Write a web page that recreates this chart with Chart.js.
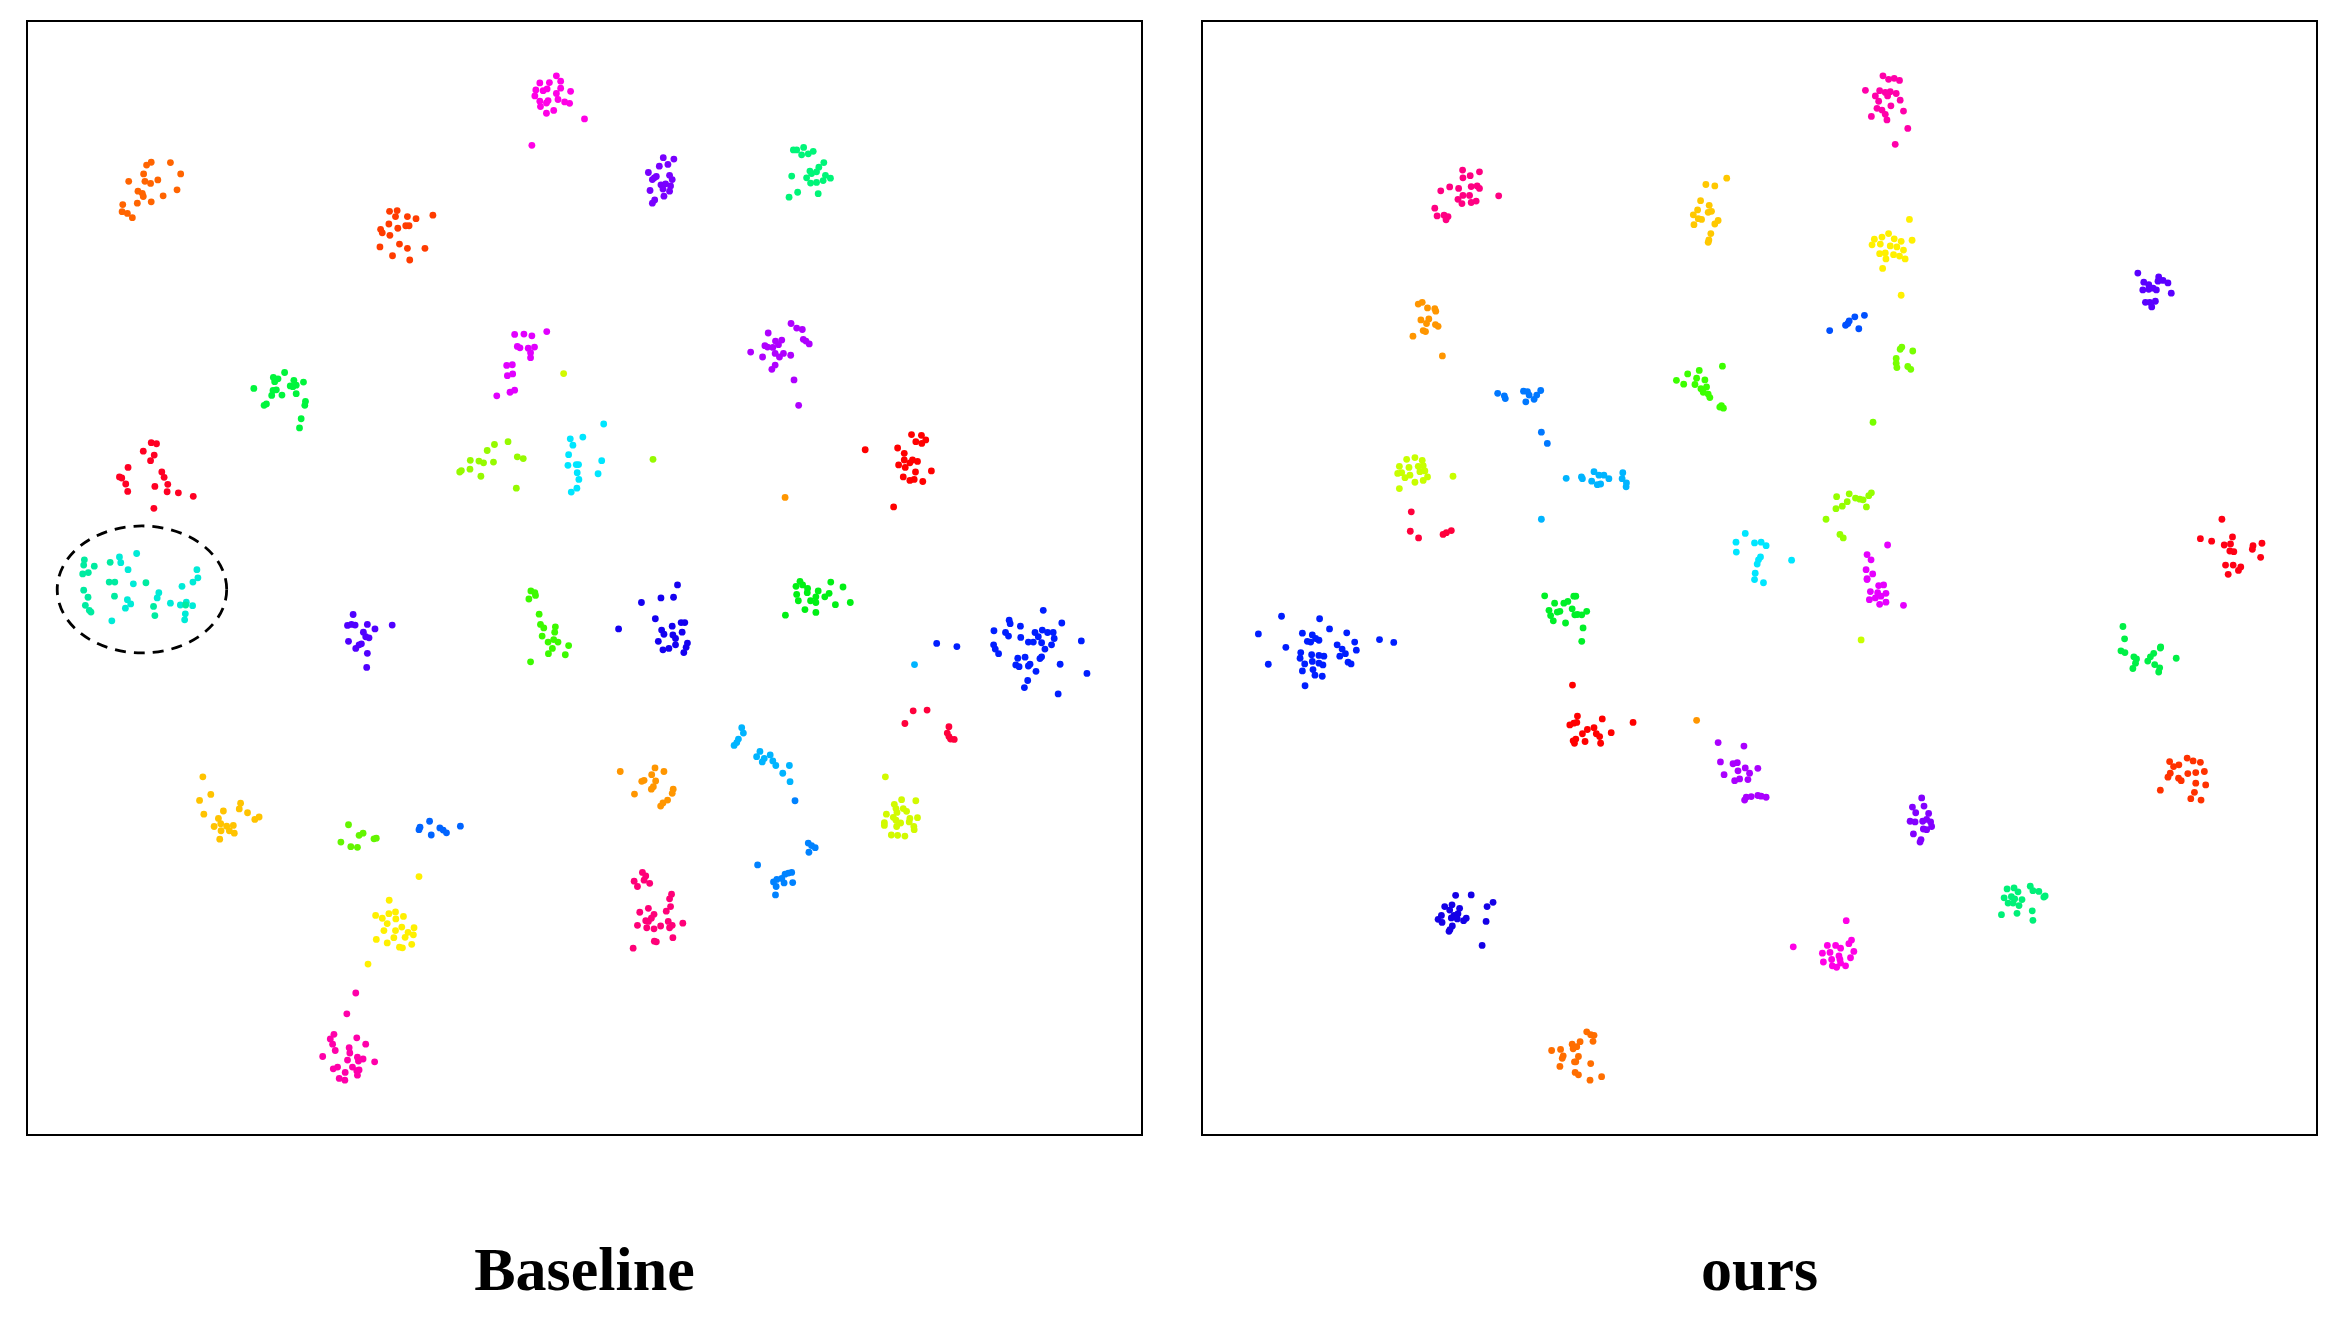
<!DOCTYPE html>
<html>
<head>
    <!-- t-SNE comparison: Baseline vs ours -->
    <title>t-SNE Baseline vs ours</title>
    <script src="https://cdn.jsdelivr.net/npm/chart.js"></script>
    <style>
        body { margin: 0; background: #fff; width: 2345px; height: 1323px; position: relative; overflow: hidden; }
        .panel { position: absolute; top: 20px; width: 1117px; height: 1116px; border: 2px solid #000; box-sizing: border-box; }
        .label { position: absolute; top: 1238px; width: 1117px; text-align: center;
                 font-family: "Liberation Serif", "Times New Roman", serif; font-weight: bold; font-size: 62px; line-height: 1; color: #000; }
    </style>
</head>
<body>
    <div class="panel" style="left: 26px;"><canvas id="baseChart"></canvas></div>
    <div class="panel" style="left: 1201px;"><canvas id="oursChart"></canvas></div>
    <div class="label" style="left: 26px;">Baseline</div>
    <div class="label" style="left: 1201px;">ours</div>
<script>
// embedding space (arbitrary units, y grows downward)
const xRange = [0, 3342];
const yRange = [0, 3133];

// ---- Baseline clusters ----
const baselineColors = [
    'rgb(255,100,0)', 'rgb(255,60,0)', 'rgb(0,245,60)', 'rgb(255,0,35)', 'rgb(0,235,160)', 'rgb(0,235,215)',
    'rgb(255,0,230)', 'rgb(120,0,255)', 'rgb(225,0,255)', 'rgb(175,0,255)', 'rgb(150,250,0)', 'rgb(0,230,255)',
    'rgb(0,245,120)', 'rgb(255,0,0)', 'rgb(80,0,255)', 'rgb(255,195,0)', 'rgb(100,245,0)', 'rgb(255,240,0)',
    'rgb(255,0,170)', 'rgb(60,250,0)', 'rgb(20,0,240)', 'rgb(0,180,255)', 'rgb(255,150,0)', 'rgb(0,100,255)',
    'rgb(255,0,120)', 'rgb(0,240,20)', 'rgb(0,30,255)', 'rgb(255,0,60)', 'rgb(210,250,0)', 'rgb(0,130,255)'
];
const baselineSeries = [
    [[362,388],[348,396],[420,389],[451,421],[339,421],[294,442],[343,442],[360,448],[382,438],[322,470],[335,476],[338,485],[440,466],[398,483],[320,504],[362,500],[276,508],[274,528],[290,533],[305,545]],
    [[1082,527],[1105,525],[1100,542],[1136,542],[1162,548],[1213,538],[1080,563],[1107,575],[1131,568],[1141,568],[1055,578],[1060,588],[1083,595],[1112,620],[1136,632],[1189,632],[1053,628],[1091,653],[1143,665]],
    [[765,984],[731,998],[745,1002],[735,1010],[793,1006],[822,1011],[672,1029],[730,1035],[740,1033],[782,1022],[790,1024],[800,1020],[800,1044],[757,1048],[726,1049],[828,1066],[826,1077],[710,1073],[703,1077],[815,1115],[810,1141]],
    [[362,1183],[378,1186],[338,1207],[371,1218],[360,1234],[292,1253],[266,1280],[273,1283],[394,1266],[401,1281],[285,1300],[412,1301],[373,1307],[291,1321],[410,1322],[444,1325],[489,1335],[370,1369]],
    [[160,1515],[158,1530],[190,1533],[155,1555],[172,1551],[238,1522],[158,1601],[171,1621],[163,1644],[180,1663],[175,1658],[235,1578],[252,1578],[251,1618],[346,1580],[369,1647],[373,1673],[466,1643]],
    [[266,1507],[270,1523],[292,1543],[318,1497],[500,1543],[503,1566],[243,1688],[290,1628],[300,1640],[284,1652],[308,1583],[385,1608],[380,1623],[420,1638],[455,1590],[450,1643],[468,1635],[487,1645],[465,1668],[463,1685],[488,1578]],
    [[1586,143],[1599,158],[1536,163],[1565,162],[1524,183],[1546,185],[1558,180],[1599,178],[1629,187],[1521,200],[1586,193],[1591,210],[1536,215],[1561,213],[1556,220],[1611,217],[1626,221],[1538,230],[1578,241],[1556,249],[1671,265],[1512,340]],
    [[1909,375],[1941,379],[1923,394],[1897,399],[1864,417],[1888,428],[1876,437],[1882,432],[1928,425],[1936,437],[1902,452],[1916,449],[1931,455],[1908,464],[1869,468],[1928,470],[1911,484],[1883,495],[1876,504]],
    [[1460,876],[1488,875],[1512,880],[1557,868],[1468,910],[1476,914],[1501,915],[1520,912],[1508,928],[1508,942],[1436,964],[1453,962],[1438,993],[1454,988],[1446,1040],[1460,1034],[1406,1050]],
    [[2226,872],[2216,908],[2224,912],[2173,926],[2209,940],[2295,845],[2312,858],[2329,862],[2248,895],[2267,892],[2257,905],[2332,890],[2340,895],[2350,903],[2240,913],[2247,930],[2260,940],[2272,930],[2294,935],[2247,963],[2237,975],[2304,1005],[2318,1077]],
    [[1399,1188],[1440,1180],[1377,1205],[1326,1233],[1352,1235],[1366,1240],[1396,1238],[1468,1223],[1486,1228],[1294,1266],[1299,1262],[1325,1258],[1358,1278],[1465,1312],[1878,1230]],
    [[1729,1130],[1666,1167],[1628,1172],[1636,1190],[1623,1217],[1621,1247],[1646,1245],[1653,1245],[1723,1234],[1649,1268],[1712,1271],[1654,1287],[1648,1312],[1631,1323]],
    [[2302,353],[2312,353],[2333,346],[2327,367],[2347,364],[2362,357],[2394,389],[2379,402],[2352,413],[2297,427],[2342,432],[2357,420],[2372,415],[2399,425],[2414,433],[2392,440],[2372,445],[2354,447],[2315,473],[2289,487],[2377,477]],
    [[2659,1160],[2689,1162],[2672,1180],[2702,1175],[2690,1185],[2617,1198],[2519,1203],[2637,1213],[2637,1232],[2662,1232],[2677,1236],[2654,1240],[2620,1246],[2640,1253],[2719,1263],[2671,1266],[2634,1280],[2654,1290],[2667,1287],[2693,1293],[2605,1365]],
    [[972,1670],[955,1701],[967,1698],[978,1700],[1015,1698],[1038,1711],[1090,1700],[1003,1720],[1010,1733],[1020,1736],[958,1746],[990,1756],[980,1766],[997,1753],[1015,1780],[1013,1820]],
    [[518,2130],[542,2180],[508,2197],[632,2205],[628,2221],[580,2227],[653,2232],[521,2236],[675,2251],[688,2244],[565,2248],[572,2263],[552,2271],[590,2270],[610,2268],[598,2283],[573,2283],[613,2290],[569,2307]],
    [[958,2266],[990,2296],[1002,2290],[935,2315],[965,2328],[985,2330],[1035,2306],[1042,2304]],
    [[1081,2480],[1040,2523],[1060,2531],[1080,2518],[1100,2513],[1075,2546],[1101,2533],[1065,2566],[1100,2566],[1042,2591],[1095,2586],[1075,2601],[1112,2613],[1017,2661],[1124,2526],[1119,2556],[1156,2558],[1138,2571],[1129,2585],[1154,2578],[1149,2605],[1121,2615],[1171,2413]],
    [[980,2743],[953,2802],[914,2860],[903,2873],[983,2870],[1010,2888],[910,2888],[918,2906],[960,2898],[962,2913],[880,2923],[955,2933],[985,2925],[1002,2930],[988,2936],[1037,2938],[925,2953],[912,2958],[970,2953],[983,2963],[990,2961],[948,2968],[985,2976],[930,2985],[947,2990]],
    [[1509,1603],[1521,1608],[1523,1616],[1503,1626],[1534,1669],[1538,1698],[1548,1708],[1583,1705],[1581,1720],[1543,1731],[1561,1748],[1578,1741],[1591,1748],[1623,1758],[1574,1766],[1562,1781],[1613,1784],[1508,1804]],
    [[1952,1586],[1902,1623],[1940,1621],[1843,1636],[1885,1682],[1774,1711],[1904,1714],[1936,1703],[1963,1693],[1974,1693],[1911,1726],[1938,1728],[1966,1720],[1946,1738],[1894,1746],[1946,1756],[1982,1751],[1978,1763],[1908,1770],[1926,1766],[1971,1778]],
    [[2146,1991],[2151,2006],[2136,2023],[2123,2041],[2131,2033],[2201,2058],[2191,2073],[2208,2088],[2214,2078],[2232,2068],[2240,2085],[2249,2098],[2270,2120],[2290,2098],[2292,2144],[2668,1812]],
    [[1779,2115],[1884,2105],[1911,2115],[1874,2124],[1886,2142],[1844,2143],[1851,2140],[1879,2158],[1873,2165],[1939,2165],[1936,2177],[1822,2179],[1922,2196],[1908,2204],[1901,2213],[2277,1338]],
    [[1171,2280],[1174,2273],[1203,2256],[1208,2295],[1234,2275],[1244,2281],[1254,2289],[1296,2270]],
    [[1846,2401],[1856,2411],[1851,2423],[1821,2426],[1831,2441],[1868,2432],[1934,2463],[1928,2476],[1931,2498],[1838,2514],[1864,2503],[1918,2511],[1881,2520],[1873,2531],[1856,2538],[1864,2540],[1831,2551],[1859,2558],[1881,2561],[1901,2553],[1924,2540],[1928,2558],[1936,2551],[1968,2545],[1938,2586],[1882,2596],[1888,2598],[1818,2616]],
    [[2322,1576],[2330,1586],[2310,1590],[2345,1596],[2415,1578],[2452,1592],[2344,1608],[2377,1603],[2312,1613],[2410,1610],[2397,1620],[2370,1620],[2317,1631],[2354,1631],[2370,1636],[2429,1642],[2474,1636],[2337,1656],[2370,1664],[2278,1672]],
    [[3057,1658],[2954,1686],[2957,1696],[2988,1703],[3113,1694],[2908,1716],[2943,1721],[2952,1731],[2989,1735],[3032,1721],[3054,1714],[3070,1721],[3087,1721],[3042,1733],[3012,1748],[3027,1748],[3052,1750],[3090,1738],[3082,1756],[3062,1768],[3172,1745],[2735,1752],[2796,1761],[2907,1756],[2912,1768],[2922,1781],[2980,1794],[3002,1791],[2974,1813],[2984,1818],[3012,1816],[3017,1811],[3052,1790],[3047,1795],[3108,1811],[3189,1837],[3035,1831],[3010,1857],[3000,1877],[3102,1895]],
    [[2664,1943],[2706,1941],[2639,1979],[2772,1988],[2767,2006],[2777,2023],[2788,2024],[2772,2016]],
    [[2580,2130],[2629,2195],[2672,2198],[2607,2208],[2612,2220],[2634,2220],[2644,2228],[2583,2236],[2615,2231],[2604,2245],[2612,2253],[2654,2248],[2677,2246],[2577,2260],[2577,2268],[2626,2261],[2614,2271],[2652,2258],[2666,2271],[2667,2280],[2598,2295],[2617,2296],[2639,2298],[1608,987]],
    [[2307,2198],[2347,2318],[2357,2325],[2368,2331],[2349,2344],[2242,2428],[2252,2421],[2267,2418],[2277,2406],[2287,2403],[2297,2401],[2300,2430],[2250,2441],[2274,2431],[2248,2465],[2194,2380]]
];
// dashed ring around the mixed classes (centre x, centre y, radius x, radius y)
const baselineRing = [334, 1599, 256, 180];

// ---- ours clusters ----
const oursColors = [
    'rgb(255,0,130)', 'rgb(255,150,0)', 'rgb(0,120,255)', 'rgb(200,255,0)', 'rgb(255,0,60)', 'rgb(255,0,170)',
    'rgb(255,200,0)', 'rgb(255,240,0)', 'rgb(0,80,255)', 'rgb(120,255,0)', 'rgb(60,255,0)', 'rgb(0,180,255)',
    'rgb(150,255,0)', 'rgb(0,230,255)', 'rgb(230,0,255)', 'rgb(90,0,255)', 'rgb(255,0,20)', 'rgb(0,30,255)',
    'rgb(0,240,40)', 'rgb(255,0,0)', 'rgb(20,0,230)', 'rgb(255,110,0)', 'rgb(170,0,255)', 'rgb(130,0,255)',
    'rgb(255,0,230)', 'rgb(0,240,70)', 'rgb(255,50,0)', 'rgb(0,240,120)'
];
const oursSeries = [
    [[774,410],[825,415],[775,432],[797,426],[708,469],[735,458],[762,462],[800,457],[818,455],[825,462],[775,482],[795,482],[760,493],[772,505],[800,502],[815,498],[883,483],[690,518],[697,540],[718,538],[730,542],[724,551]],
    [[652,785],[640,790],[668,801],[690,803],[693,810],[648,835],[672,832],[665,845],[692,848],[700,853],[655,865],[662,868],[624,881],[713,937],[1481,1970]],
    [[880,1043],[900,1050],[903,1058],[958,1037],[970,1038],[975,1048],[965,1067],[990,1060],[998,1048],[1010,1035],[1012,1153],[1030,1185]],
    [[605,1230],[630,1225],[652,1233],[583,1250],[612,1253],[640,1250],[655,1248],[578,1270],[590,1268],[615,1275],[645,1265],[660,1263],[600,1282],[668,1280],[655,1290],[630,1295],[583,1313],[745,1278],[1978,1742]],
    [[619,1379],[616,1434],[641,1453],[715,1443],[725,1438],[740,1432]],
    [[2044,143],[2061,153],[2078,150],[2094,156],[1991,184],[2034,185],[2051,190],[2066,188],[2084,193],[2021,200],[2058,200],[2096,212],[2031,215],[2068,228],[2026,235],[2041,240],[2106,243],[2009,258],[2051,252],[2056,268],[2119,292],[2081,337]],
    [[1509,451],[1536,455],[1572,433],[1493,497],[1519,510],[1526,527],[1516,530],[1484,523],[1471,537],[1486,548],[1496,550],[1546,553],[1536,563],[1473,565],[1524,590],[1518,608],[1516,615]],
    [[2124,550],[2061,590],[2041,600],[2018,606],[2078,605],[2099,612],[2132,609],[2011,622],[2036,620],[2066,625],[2086,628],[2106,637],[2034,647],[2051,645],[2076,650],[2094,654],[2111,662],[2053,662],[2043,689],[2099,765]],
    [[1883,865],[1931,850],[1938,845],[1942,838],[1959,826],[1988,822],[1971,860]],
    [[2101,912],[2096,918],[2134,923],[2084,944],[2084,958],[2086,970],[2119,967],[2128,975],[2014,1125]],
    [[1559,966],[1489,978],[1454,988],[1420,1006],[1442,1017],[1481,1000],[1506,1005],[1476,1018],[1494,1030],[1511,1025],[1501,1040],[1516,1045],[1521,1055],[1556,1078],[1562,1085],[1551,1082]],
    [[1133,1280],[1136,1285],[1171,1265],[1164,1292],[1186,1275],[1201,1275],[1181,1302],[1191,1300],[1216,1285],[1258,1268],[1256,1285],[1269,1297],[1268,1308],[1087,1284],[1012,1400]],
    [[1904,1336],[1942,1328],[1961,1340],[1974,1343],[1984,1345],[2001,1333],[2009,1325],[1936,1350],[1921,1363],[1902,1370],[1994,1365],[1872,1400],[1914,1443],[1924,1453]],
    [[1628,1440],[1600,1465],[1601,1493],[1656,1467],[1676,1465],[1691,1475],[1674,1507],[1668,1515],[1664,1527],[1768,1516],[1658,1553],[1656,1571],[1683,1580]],
    [[2058,1473],[1996,1500],[2008,1515],[1993,1543],[2013,1555],[1996,1568],[1996,1571],[2031,1588],[2046,1586],[2006,1605],[2028,1608],[2053,1610],[2038,1618],[2003,1628],[2021,1623],[2034,1641],[2053,1635],[2106,1644]],
    [[2814,702],[2832,728],[2847,735],[2877,713],[2875,725],[2890,723],[2905,730],[2829,750],[2847,748],[2860,745],[2870,750],[2915,759],[2837,785],[2850,785],[2867,782],[2856,798]],
    [[3068,1400],[3003,1455],[3037,1462],[3100,1450],[3075,1473],[3094,1470],[3092,1490],[3104,1492],[3162,1475],[3160,1485],[3189,1468],[3185,1508],[3079,1530],[3102,1530],[3125,1535],[3118,1545],[3087,1556]],
    [[227,1675],[342,1682],[157,1725],[290,1723],[372,1711],[424,1722],[320,1728],[330,1738],[305,1746],[315,1748],[340,1743],[448,1748],[523,1741],[566,1749],[240,1763],[395,1756],[410,1768],[453,1771],[285,1778],[283,1794],[318,1784],[340,1786],[355,1788],[420,1781],[403,1788],[187,1811],[297,1810],[320,1803],[340,1808],[352,1813],[428,1805],[437,1810],[290,1830],[322,1826],[328,1842],[350,1845],[298,1872]],
    [[1022,1617],[1052,1638],[1080,1638],[1092,1633],[1110,1618],[1035,1658],[1060,1663],[1068,1661],[1105,1654],[1040,1673],[1048,1688],[1085,1694],[1113,1671],[1116,1618],[1121,1670],[1134,1671],[1149,1661],[1138,1708],[1134,1746]],
    [[1106,1870],[1098,1983],[1110,1978],[1108,2028],[1112,2035],[1121,1958],[1119,1976],[1196,1966],[1136,2008],[1151,1996],[1171,1991],[1178,2008],[1188,2016],[1223,2005],[1116,2023],[1144,2030],[1191,2035],[1289,1976]],
    [[753,2466],[800,2465],[720,2498],[742,2493],[735,2508],[765,2503],[866,2486],[848,2498],[710,2523],[748,2523],[760,2518],[700,2534],[712,2543],[740,2530],[758,2533],[785,2531],[777,2538],[845,2540],[743,2553],[736,2563],[733,2568],[833,2608]],
    [[1043,2906],[1070,2903],[1078,2921],[1105,2888],[1108,2901],[1075,2928],[1068,2951],[1112,2938],[1114,2968],[1149,2853],[1161,2861],[1171,2863],[1168,2880],[1129,2881],[1119,2895],[1124,2923],[1116,2938],[1161,2943],[1124,2975],[1159,2990],[1194,2980]],
    [[1546,2033],[1624,2043],[1553,2088],[1591,2093],[1604,2090],[1628,2105],[1666,2106],[1564,2124],[1606,2113],[1641,2120],[1596,2141],[1611,2136],[1636,2138],[1631,2188],[1626,2196],[1646,2186],[1666,2183],[1676,2185],[1691,2188]],
    [[2161,2190],[2133,2216],[2168,2213],[2143,2232],[2182,2234],[2126,2256],[2141,2258],[2164,2256],[2176,2251],[2188,2258],[2191,2271],[2166,2278],[2176,2280],[2136,2292],[2159,2308],[2156,2315]],
    [[1933,2538],[1773,2612],[1949,2593],[1941,2603],[1876,2608],[1901,2608],[1916,2616],[1956,2625],[1884,2628],[1861,2630],[1911,2638],[1889,2648],[1914,2648],[1946,2643],[1864,2655],[1916,2658],[1891,2666],[1904,2670],[1931,2666]],
    [[2769,1704],[2774,1739],[2763,1773],[2775,1778],[2802,1790],[2810,1796],[2807,1808],[2799,1823],[2844,1802],[2852,1790],[2862,1780],[2883,1762],[2882,1765],[2865,1812],[2880,1821],[2877,1833],[2930,1794]],
    [[2963,2077],[2981,2085],[3003,2089],[2910,2087],[2922,2101],[2938,2096],[2912,2120],[2905,2131],[2965,2121],[2989,2118],[3015,2115],[2937,2134],[2945,2141],[2989,2148],[3019,2153],[2882,2168],[2985,2174],[2974,2192],[3005,2196]],
    [[2419,2448],[2440,2445],[2489,2440],[2452,2456],[2497,2453],[2515,2455],[2410,2473],[2432,2470],[2442,2476],[2464,2478],[2530,2471],[2534,2468],[2422,2488],[2437,2488],[2455,2495],[2495,2510],[2402,2521],[2449,2517],[2497,2537]]
];

// Plugin: dashed ellipse drawn in data coordinates
const ringPlugin = {
    id: 'ring',
    afterDatasetsDraw(chart, args, opts) {
        if (!opts.ring) return;
        const [cx, cy, rx, ry] = opts.ring;
        const xs = chart.scales.x, ys = chart.scales.y;
        const px = xs.getPixelForValue(cx), py = ys.getPixelForValue(cy);
        const prx = Math.abs(xs.getPixelForValue(cx + rx) - px);
        const pry = Math.abs(ys.getPixelForValue(cy + ry) - py);
        const ctx = chart.ctx;
        ctx.save();
        ctx.strokeStyle = '#000';
        ctx.lineWidth = 2.8;
        ctx.setLineDash([11, 8]);
        ctx.beginPath();
        ctx.ellipse(px, py, prx, pry, 0, 0, Math.PI * 2);
        ctx.stroke();
        ctx.restore();
    }
};

function makeChart(id, colors, series, ring) {
    const datasets = series.map((pts, i) => ({
        data: pts.map(p => ({ x: p[0], y: p[1] })),
        backgroundColor: colors[i],
        borderWidth: 0,
        pointRadius: 3.4,
        pointHoverRadius: 3.4
    }));
    return new Chart(document.getElementById(id), {
        type: 'scatter',
        data: { datasets: datasets },
        options: {
            animation: false,
            responsive: true,
            maintainAspectRatio: false,
            layout: { padding: 0 },
            plugins: { legend: { display: false }, tooltip: { enabled: false }, ring: { ring: ring } },
            scales: {
                x: { type: 'linear', min: xRange[0], max: xRange[1], display: false },
                y: { type: 'linear', min: yRange[0], max: yRange[1], reverse: true, display: false }
            }
        },
        plugins: [ringPlugin]
    });
}

makeChart('baseChart', baselineColors, baselineSeries, baselineRing);
makeChart('oursChart', oursColors, oursSeries, null);
</script>
</body>
</html>
